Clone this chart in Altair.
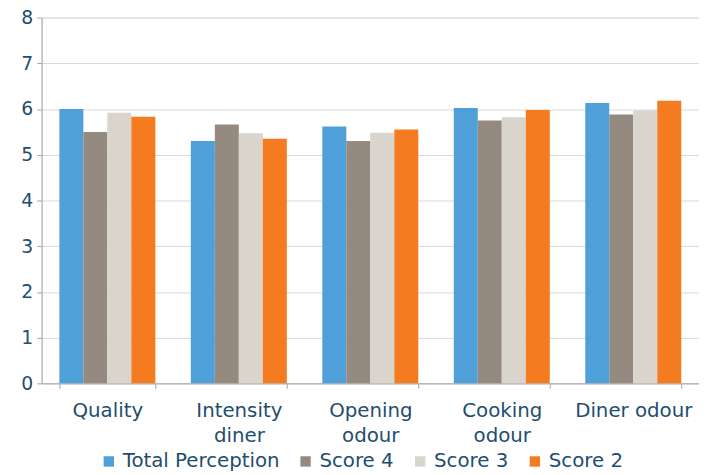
import altair as alt
import pandas as pd

categories = ["Quality", "Intensity|diner", "Opening|odour", "Cooking|odour", "Diner odour"]
series = ["Total Perception", "Score 4", "Score 3", "Score 2"]
total = [6.00, 5.30, 5.62, 6.02, 6.13]
score4 = [5.50, 5.66, 5.30, 5.75, 5.88]
score3 = [5.92, 5.47, 5.48, 5.82, 5.97]
score2 = [5.83, 5.35, 5.55, 5.98, 6.18]
colors = ["#4f9fd8", "#948a80", "#d9d4cc", "#f47b20"]

rows = []
for name, vals in zip(series, [total, score4, score3, score2]):
    for c, v in zip(categories, vals):
        rows.append({"cat": c, "series": name, "value": v})
df = pd.DataFrame(rows)

txt = "#1f4e6e"
chart = alt.Chart(df).mark_bar().encode(
    x=alt.X("cat:N", sort=categories, title=None,
            scale=alt.Scale(paddingInner=0.27, paddingOuter=0.135),
            axis=alt.Axis(labelAngle=0, labelExpr="split(datum.label, '|')",
                          labelFontSize=20, labelColor=txt, labelPadding=13,
                          domainColor="#a6a6a6", tickColor="#a6a6a6",
                          tickBand="extent", tickSize=5, labelLineHeight=25)),
    xOffset=alt.XOffset("series:N", sort=series),
    y=alt.Y("value:Q", title=None, scale=alt.Scale(domain=[0, 8]),
            axis=alt.Axis(tickCount=8, labelFontSize=19, labelColor=txt,
                          domainColor="#a6a6a6", ticks=True, tickColor="#a6a6a6",
                          tickSize=5, gridColor="#d9d9d9", labelPadding=4)),
    color=alt.Color("series:N", sort=series,
                    scale=alt.Scale(domain=series, range=colors),
                    legend=alt.Legend(orient="none", direction="horizontal", title=None,
                                      legendX=58, legendY=439,
                                      symbolType="square", symbolSize=110,
                                      labelFontSize=20, labelColor=txt,
                                      columnPadding=16, symbolStrokeWidth=0)),
).properties(width=665, height=370, autosize=alt.AutoSizeParams(type="none"),
             padding={"left": 34, "top": 7, "right": 0, "bottom": 88}
).configure_view(stroke=None).configure(font="DejaVu Sans")

chart.save("out.html", embed_options={"renderer": "svg", "actions": False})
